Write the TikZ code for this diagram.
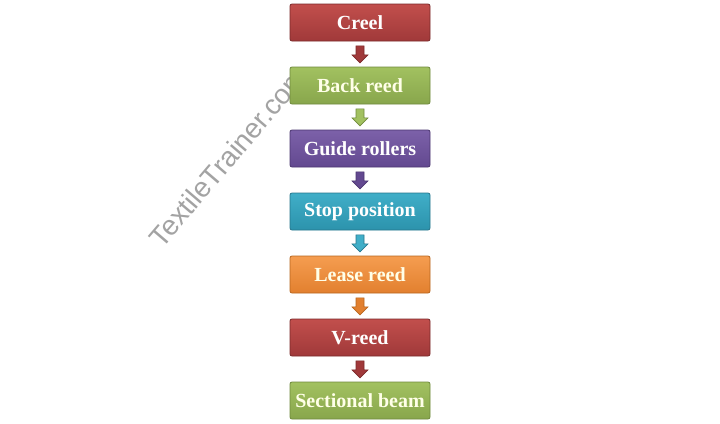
\documentclass[tikz,border=0pt]{standalone}
\usepackage{fontspec}
\setmainfont{Liberation Serif}
\newfontfamily\wmfont{Liberation Sans}
\usetikzlibrary{calc}
\definecolor{redT}{HTML}{C24F4C}\definecolor{redB}{HTML}{A0393A}\definecolor{redD}{HTML}{7A2A2A}
\definecolor{grnT}{HTML}{A2C160}\definecolor{grnB}{HTML}{88A64C}\definecolor{grnD}{HTML}{6F893C}
\definecolor{purT}{HTML}{7C61A9}\definecolor{purB}{HTML}{634990}\definecolor{purD}{HTML}{4B3670}
\definecolor{tealT}{HTML}{40AEC8}\definecolor{tealB}{HTML}{2C93AC}\definecolor{tealD}{HTML}{26768C}
\definecolor{orT}{HTML}{F59D50}\definecolor{orB}{HTML}{E2802F}\definecolor{orD}{HTML}{B7661F}
\definecolor{cream}{HTML}{FFFFE8}
\tikzset{
  stepbox/.style={rectangle, rounded corners=2pt, minimum width=140pt, minimum height=37pt,
    inner sep=0pt, font=\fontsize{20}{20}\selectfont\bfseries, text=white, line width=0.8pt},
  redbox/.style={stepbox, draw=redD, top color=redT, bottom color=redB},
  grnbox/.style={stepbox, draw=grnD, top color=grnT, bottom color=grnB, text=cream},
  purbox/.style={stepbox, draw=purD, top color=purT, bottom color=purB},
  tealbox/.style={stepbox, draw=tealD, top color=tealT, bottom color=tealB},
  orbox/.style={stepbox, draw=orD, top color=orT, bottom color=orB, text=cream},
  blockarrow/.pic={\draw[line width=0.6pt, pic actions] (-4,0) -- (4,0) -- (4,9) -- (8,9) -- (0,17) -- (-8,9) -- (-4,9) -- cycle;},
  watermark/.style={font=\wmfont\fontsize{28}{28}\selectfont, text=black!36, rotate=49.5},
}
\begin{document}
\begin{tikzpicture}[x=1pt,y=-1pt]
\useasboundingbox[fill=white] (0,0) rectangle (720,423);
\node[watermark] (wm) at (228,157) {TextileTrainer.com};
\node[redbox]  (creel)  at (360,22.5)  {Creel};
\node[grnbox]  (back)   at (360,85.5)  {Back reed};
\node[purbox]  (guide)  at (360,148.5) {Guide rollers};
\node[tealbox] (stop)   at (360,211.5) {Stop position};
\node[orbox]   (lease)  at (360,274.5) {Lease reed};
\node[redbox]  (vreed)  at (360,337.5) {V-reed};
\node[grnbox]  (beam)   at (360,400.5) {Sectional beam};
\pic[fill=redB, draw=redD]   at ($(creel.south)+(0,4.5)$) {blockarrow};
\pic[fill=grnT, draw=grnD]   at ($(back.south)+(0,4.5)$)  {blockarrow};
\pic[fill=purB, draw=purD]   at ($(guide.south)+(0,4.5)$) {blockarrow};
\pic[fill=tealT, draw=tealD] at ($(stop.south)+(0,4.5)$)  {blockarrow};
\pic[fill=orB, draw=orD]     at ($(lease.south)+(0,4.5)$) {blockarrow};
\pic[fill=redB, draw=redD]   at ($(vreed.south)+(0,4.5)$) {blockarrow};
\end{tikzpicture}
\end{document}
